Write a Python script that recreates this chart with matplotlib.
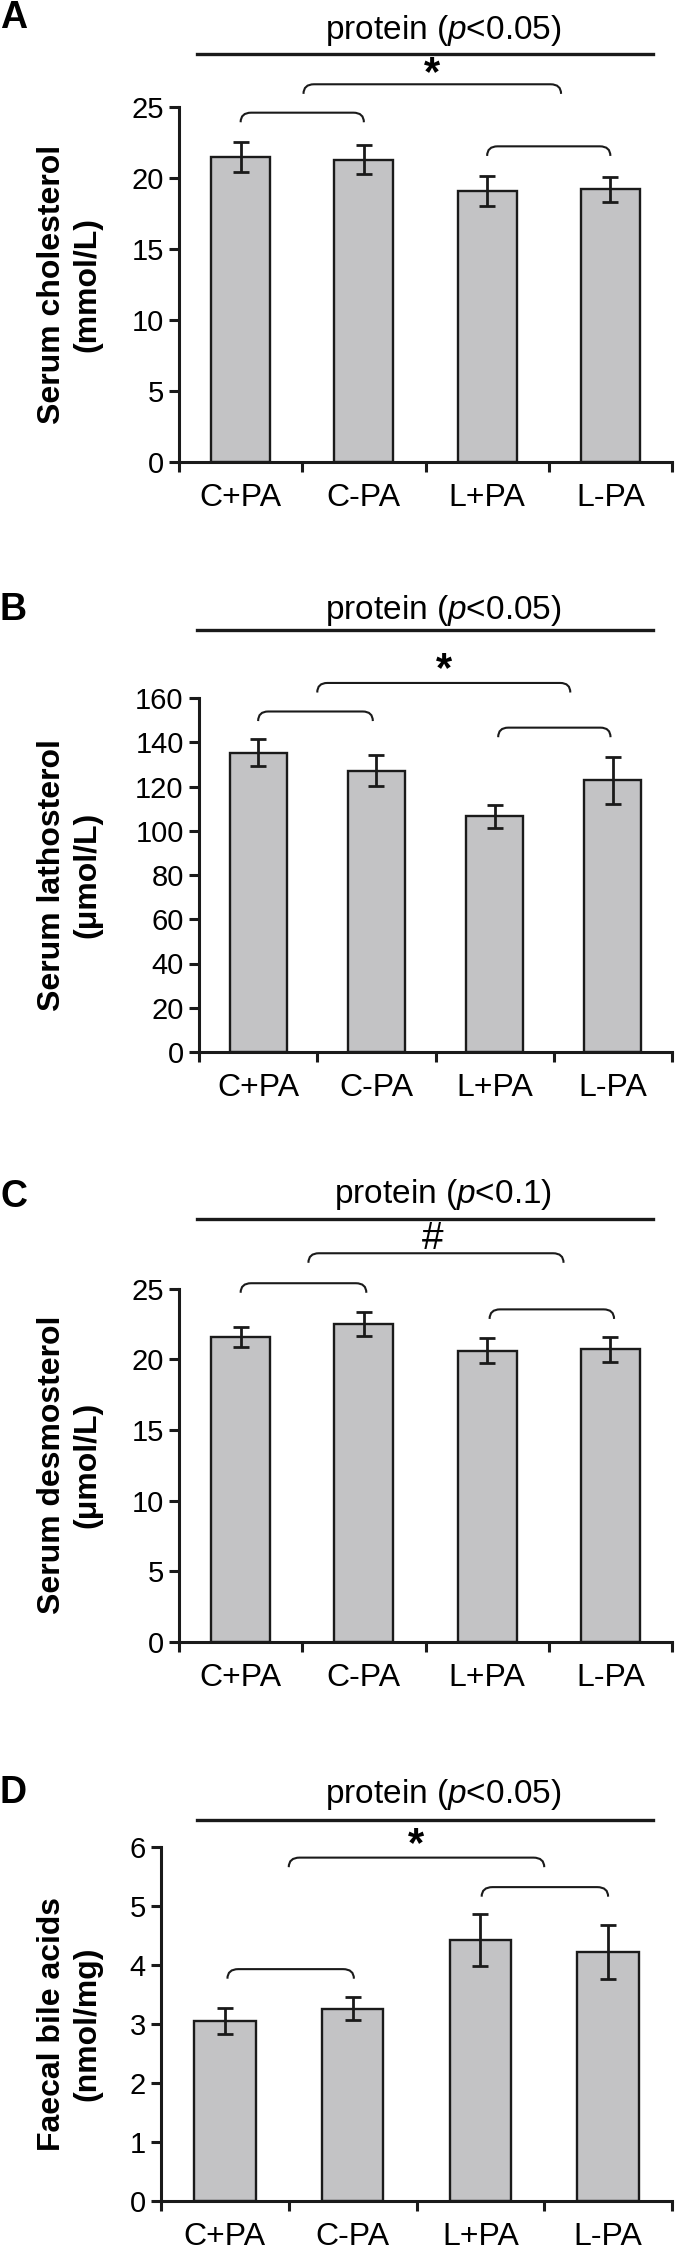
import matplotlib
matplotlib.use('Agg')
import matplotlib.pyplot as plt
from matplotlib.path import Path
from matplotlib.patches import PathPatch
from matplotlib.lines import Line2D

plt.rcParams['font.family'] = ['Liberation Sans', 'DejaVu Sans']
plt.rcParams['mathtext.fontset'] = 'custom'
plt.rcParams['mathtext.rm'] = 'Liberation Sans'
plt.rcParams['mathtext.it'] = 'Liberation Sans:italic'

groups = ['C+PA', 'C-PA', 'L+PA', 'L-PA']

chol = [21.5, 21.3, 19.1, 19.2]
chol_err = [1.05, 1.03, 1.06, 0.86]
lath = [135.3, 127.2, 106.6, 122.9]
lath_err = [6.0, 7.0, 5.2, 10.6]
desm = [21.6, 22.5, 20.6, 20.7]
desm_err = [0.7, 0.83, 0.88, 0.88]
bile = [3.05, 3.26, 4.42, 4.22]
bile_err = [0.22, 0.2, 0.44, 0.45]

W, H = 675, 2253
INK = '#1a1a1a'


def px_rect(left, top, right, bottom):
    return [left / W, 1 - bottom / H, (right - left) / W, (bottom - top) / H]


def bracket(ax, x1, x2, ytop, drop, dx=0.085):
    verts = [(x1, ytop - drop), (x1, ytop), (x1 + dx, ytop),
             (x2 - dx, ytop), (x2, ytop), (x2, ytop - drop)]
    codes = [Path.MOVETO, Path.CURVE3, Path.CURVE3,
             Path.LINETO, Path.CURVE3, Path.CURVE3]
    ax.add_patch(PathPatch(Path(verts, codes), facecolor='none',
                           edgecolor=INK, lw=1.5, clip_on=False))


panels = [
    dict(vals=chol, err=chol_err, rect=(179, 107, 672, 462), ymax=25, step=5,
         ylabel='Serum cholesterol\n(mmol/L)', letter='A', letter_y=18,
         ptext='protein ($p$<0.05)', text_y=30, line_y=54, sym='*', sym_pos=(1.55, 27.3),
         brackets=[(0, 1, 24.6), (0.51, 2.6, 26.6), (2, 3, 22.23)]),
    dict(vals=lath, err=lath_err, rect=(199, 698, 672, 1052), ymax=160, step=20,
         ylabel='Serum lathosterol\n(μmol/L)', letter='B', letter_y=610,
         ptext='protein ($p$<0.05)', text_y=610, line_y=630, sym='*', sym_pos=(1.57, 172.4),
         brackets=[(0, 0.97, 153.9), (0.5, 2.64, 166.8), (2.03, 2.98, 146.6)]),
    dict(vals=desm, err=desm_err, rect=(179, 1288.6, 672, 1642), ymax=25, step=5,
         ylabel='Serum desmosterol\n(μmol/L)', letter='C', letter_y=1197,
         ptext='protein ($p$<0.1)', text_y=1195, line_y=1219, sym='#', sym_pos=(1.56, 28.5),
         brackets=[(0, 1.02, 25.38), (0.55, 2.62, 27.5), (2.02, 3.03, 23.53)]),
    dict(vals=bile, err=bile_err, rect=(161, 1847, 672, 2201), ymax=6, step=1,
         ylabel='Faecal bile acids\n(nmol/mg)', letter='D', letter_y=1793,
         ptext='protein ($p$<0.05)', text_y=1795, line_y=1820, sym='*', sym_pos=(1.5, 6.04),
         brackets=[(0.02, 1.01, 3.93), (0.5, 2.5, 5.82), (2.01, 3.0, 5.32)]),
]

fig = plt.figure(figsize=(W / 100, H / 100), dpi=100)

for p in panels:
    left, top, right, bottom = p['rect']
    ax = fig.add_axes(px_rect(left, top, right, bottom))
    x = range(len(groups))
    ax.bar(x, p['vals'], width=0.48, color='#c3c3c5', edgecolor=INK, lw=1.7, zorder=2)
    ax.errorbar(x, p['vals'], yerr=p['err'], fmt='none', ecolor=INK,
                elinewidth=2, capsize=6, capthick=2, zorder=3)
    ax.set_xlim(-0.5, 3.5)
    ax.set_ylim(0, p['ymax'])
    ax.set_yticks([i * p['step'] for i in range(int(p['ymax'] / p['step']) + 1)])
    ax.set_xticks(list(x))
    ax.set_xticklabels(groups, fontsize=23)
    ax.set_xticks([-0.5, 0.5, 1.5, 2.5, 3.5], minor=True)
    ax.tick_params(axis='x', which='major', length=0, pad=15)
    ax.tick_params(axis='x', which='minor', length=7, width=2.2, direction='out', color=INK)
    ax.tick_params(axis='y', length=7, width=2.2, labelsize=21, pad=4, color=INK)
    for s in ['top', 'right']:
        ax.spines[s].set_visible(False)
    for s in ['left', 'bottom']:
        ax.spines[s].set_linewidth(2.2)
        ax.spines[s].set_color(INK)
    ax.set_ylabel(p['ylabel'], fontsize=23, fontweight='bold', linespacing=1.25, va='center')
    ax.yaxis.set_label_coords((69.5 - left) / (right - left), 0.5)

    drop = 0.027 * p['ymax']
    for x1, x2, yt in p['brackets']:
        bracket(ax, x1, x2, yt, drop)
    ax.text(p['sym_pos'][0], p['sym_pos'][1], p['sym'], ha='center', va='center',
            fontsize=30 if p['sym'] == '*' else 28,
            fontweight='bold' if p['sym'] == '*' else 'normal', clip_on=False)

    fig.text(0.0, 1 - p['letter_y'] / H, p['letter'], fontsize=27, fontweight='bold',
             ha='left', va='center')
    fig.text(443 / W, 1 - p['text_y'] / H, p['ptext'], fontsize=24, ha='center', va='center')
    fig.add_artist(Line2D([197 / W, 653 / W], [1 - p['line_y'] / H] * 2,
                          transform=fig.transFigure, color=INK, lw=2.4))

fig.savefig('out.png', dpi=100)
